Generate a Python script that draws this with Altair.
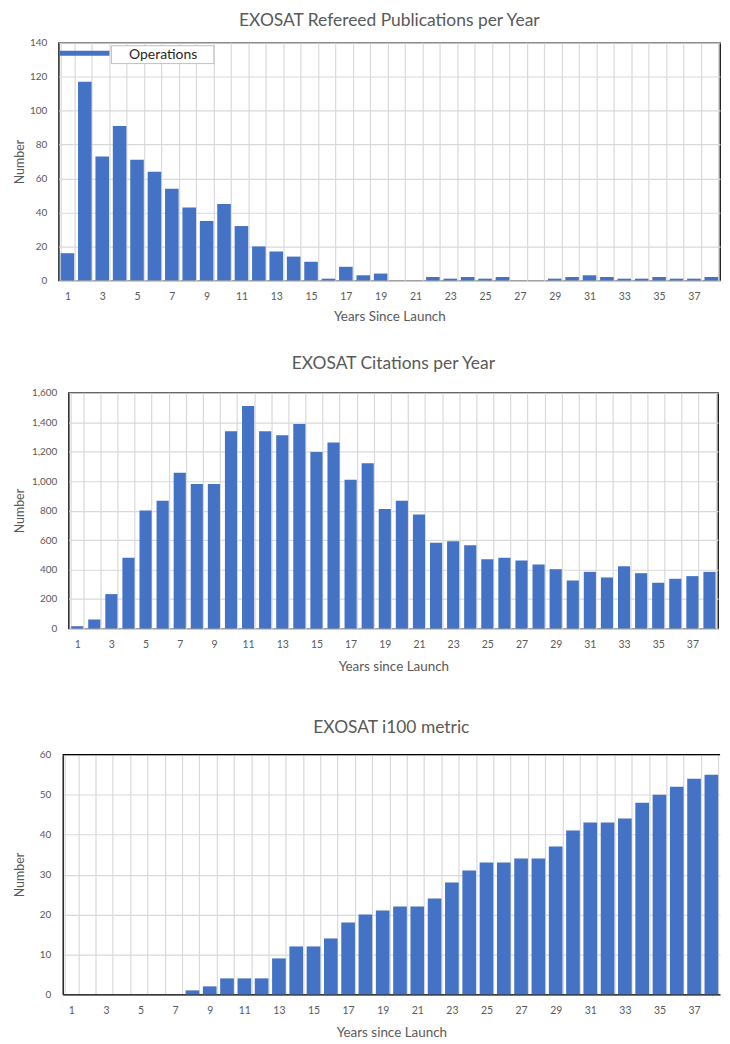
import altair as alt
import pandas as pd

years = list(range(1, 39))

publications = [16, 117, 73, 91, 71, 64, 54, 43, 35, 45,
                32, 20, 17, 14, 11, 1, 8, 3, 4, 0,
                0, 2, 1, 2, 1, 2, 0, 0, 1, 2,
                3, 2, 1, 1, 2, 1, 1, 2]

citations = [15, 60, 233, 480, 800, 867, 1056, 980, 980, 1339,
             1510, 1339, 1312, 1387, 1198, 1263, 1009, 1121, 811, 867,
             773, 582, 591, 564, 470, 479, 461, 434, 402, 326,
             384, 346, 422, 375, 310, 337, 355, 384]

i100 = [0, 0, 0, 0, 0, 0, 0, 1, 2, 4,
        4, 4, 9, 12, 12, 14, 18, 20, 21, 22,
        22, 24, 28, 31, 33, 33, 34, 34, 37, 41,
        43, 43, 44, 48, 50, 52, 54, 55]

legend_labels = ["Operations"]

BLUE = "#4472C4"
GRID = "#d9d9d9"
TXT = "#595959"
FONT = "Lato"


def panel(values, title_text, xtitle, w, h, pin, ymax, ystep, yfmt,
          ytitle_pad, title_offset, xtitle_pad, frame_axes=False):
    df = pd.DataFrame({"year": years, "value": values})
    bars = alt.Chart(df).mark_bar(color=BLUE).encode(
        x=alt.X(
            "year:O",
            title=xtitle,
            scale=alt.Scale(paddingInner=pin, paddingOuter=pin / 2),
            axis=alt.Axis(
                tickBand="extent",
                labelExpr="datum.value % 2 == 1 ? datum.label : ''",
                labelAngle=0,
                labelOverlap=False,
                ticks=False,
                domain=frame_axes,
                domainColor="black",
                domainWidth=1.3,
                grid=True,
                gridColor=GRID,
                gridWidth=1.2,
                labelPadding=11,
                titlePadding=xtitle_pad,
                labelFontSize=10.5,
                titleFontSize=13.5,
                titleFontWeight="normal",
                labelColor=TXT,
                titleColor=TXT,
                labelFont=FONT,
                titleFont=FONT,
            ),
        ),
        y=alt.Y(
            "value:Q",
            title="Number",
            scale=alt.Scale(domain=[0, ymax], nice=False),
            axis=alt.Axis(
                values=list(range(0, ymax + 1, ystep)),
                format=yfmt,
                ticks=False,
                domain=frame_axes,
                domainColor="black",
                domainWidth=1.3,
                grid=True,
                gridColor=GRID,
                gridWidth=1.2,
                labelPadding=12,
                titlePadding=ytitle_pad,
                labelFontSize=10,
                titleFontSize=12.5,
                titleFontWeight="normal",
                labelColor=TXT,
                titleColor=TXT,
                labelFont=FONT,
                titleFont=FONT,
            ),
        ),
    )
    return bars, dict(width=w, height=h), alt.TitleParams(
        title_text, offset=title_offset, fontSize=17.5, font=FONT,
        fontWeight="normal", color=TXT, anchor="middle", lineHeight=14)


def spacer():
    return alt.Chart(pd.DataFrame({"s": [0]})).mark_rect(opacity=0).encode(
        x=alt.value(0), x2=alt.value(1), y=alt.value(0), y2=alt.value(1)
    ).properties(width=1, height=1, view=alt.ViewBackground(stroke="transparent"))


# top panel
b1, p1, t1 = panel(publications, "EXOSAT Refereed Publications per Year",
                   "Years Since Launch", 665, 239, 0.22, 140, 20, "d", 3.5, 8, 8)
leg_df = pd.DataFrame({"label": legend_labels})
leg_bar = alt.Chart(leg_df).mark_rect(color=BLUE).encode(
    x=alt.value(1), x2=alt.value(51), y=alt.value(8), y2=alt.value(13))
leg_box = alt.Chart(leg_df).mark_rect(fill="white", stroke="#bfbfbf",
                                      strokeWidth=1).encode(
    x=alt.value(53), x2=alt.value(156), y=alt.value(3), y2=alt.value(21))
leg_txt = alt.Chart(leg_df).mark_text(font=FONT, fontSize=14, color="#262626",
                                      align="center", baseline="middle").encode(
    x=alt.value(105), y=alt.value(12), text="label:N")
top = alt.layer(b1, leg_bar, leg_box, leg_txt).properties(title=t1, **p1)

# middle panel
b2, p2, t2 = panel(citations, "EXOSAT Citations per Year",
                   "Years  since Launch", 653, 237, 0.29, 1600, 200, ",d", 5, 15, 10)
mid = b2.properties(title=t2, **p2)

# bottom panel: the right edge runs off the page, so no right border
W3 = 661
b3, p3, t3 = panel(i100, ["", "EXOSAT i100 metric"],
                   "Years  since Launch", W3, 241, 0.21, 60, 10, "d", 13, 13, 10,
                   frame_axes=True)
top_edge = alt.Chart(leg_df).mark_rule(color="black", strokeWidth=1.3).encode(
    x=alt.value(0), x2=alt.value(W3), y=alt.value(0))
bot = alt.layer(b3, top_edge).properties(
    title=t3, view=alt.ViewBackground(stroke="transparent"), **p3)

chart = alt.vconcat(
    alt.hconcat(spacer(), top, spacing=0),
    alt.hconcat(spacer(), mid, spacing=0),
    alt.hconcat(spacer(), bot, spacing=0),
    spacing=30,
).properties(
    padding={"left": 1, "top": 0, "right": 0, "bottom": 0}
).configure_view(stroke="black", strokeWidth=1.3)

chart.save("out.html", embed_options={"renderer": "svg", "actions": False})
